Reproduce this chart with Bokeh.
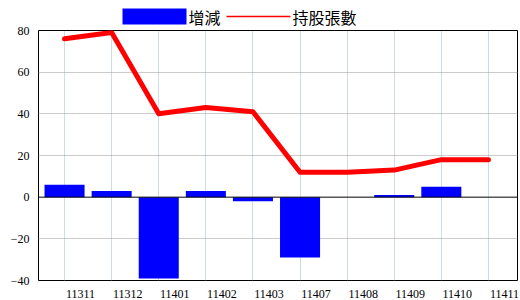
from bokeh.plotting import figure
from bokeh.layouts import column
from bokeh.models import Range1d, FixedTicker, Span, ColumnDataSource
from bokeh.core.properties import value
from bokeh.embed import file_html
from bokeh.resources import INLINE

months = ["11311", "11312", "11401", "11402", "11403", "11407", "11408", "11409", "11410", "11411"]
change = [6, 3, -39, 3, -2, -29, 0, 1, 5, 0]
holding = [76, 79, 40, 43, 41, 12, 12, 13, 18, 18]
y_ticks = [-40, -20, 0, 20, 40, 60, 80]
series_names = ["增減", "持股張數"]

BLUE = "#0000FF"
RED = "#FF0000"

# ---- legend strip (x in page pixels, y in strip pixels from its bottom) ----
leg = figure(width=520, height=30, x_range=Range1d(38, 517), y_range=Range1d(0, 30),
             output_backend="svg", toolbar_location=None,
             x_axis_location=None, y_axis_location=None,
             min_border_left=38, min_border_right=3, min_border_top=0, min_border_bottom=0)
leg.outline_line_color = None
leg.grid.visible = False
leg.background_fill_alpha = 0
leg.border_fill_alpha = 0
leg.quad(left=[122], right=[186], bottom=[6], top=[22], fill_color=BLUE, line_color=None)
leg.segment(x0=[226], x1=[290], y0=[14], y1=[14], line_color=RED, line_width=1.5)
leg.text(x=[188, 292], y=[14, 14], text=series_names, text_font=value("Noto Sans CJK TC"),
         text_font_size="16px", text_baseline="middle", text_align="left", text_color="black")

# ---- main chart ----
idx = list(range(len(months)))
src = ColumnDataSource(dict(x=idx, change=change, holding=holding))

p = figure(width=520, height=276, x_range=Range1d(-0.553, 9.617), y_range=Range1d(-40, 80),
           output_backend="svg", toolbar_location=None,
           min_border_left=38, min_border_right=3, min_border_top=6, min_border_bottom=20,
           margin=(-6, 0, 0, 0))
p.background_fill_color = "white"
p.border_fill_alpha = 0
p.outline_line_color = "black"
p.outline_line_width = 1
p.outline_line_alpha = 1

p.vbar(x="x", top="change", bottom=0, width=0.85, source=src,
       fill_color=BLUE, line_color=None)
p.line(x="x", y="holding", source=src, line_color=RED, line_width=5,
       line_join="round", line_cap="round")

p.add_layout(Span(location=0, dimension="width", line_color="black", line_width=1))

label_ticks = [i + 0.34 for i in idx]
p.xaxis.ticker = FixedTicker(ticks=label_ticks)
p.xaxis.major_label_overrides = {t: m for t, m in zip(label_ticks, months)}
p.yaxis.ticker = FixedTicker(ticks=y_ticks)
for ax in (p.xaxis, p.yaxis):
    ax.major_tick_line_color = None
    ax.minor_tick_line_color = None
    ax.axis_line_color = None
    ax.major_label_standoff = 3
    ax.major_label_text_font = "Liberation Sans Narrow"
    ax.major_label_text_font_size = "12px"
    ax.major_label_text_color = "black"

p.xgrid.ticker = FixedTicker(ticks=idx)
p.xgrid.grid_line_color = "#a0b8c8"
p.xgrid.grid_line_dash = "1 1"
p.ygrid.ticker = FixedTicker(ticks=[-20, 20, 40, 60])
p.ygrid.grid_line_color = "#999999"
p.ygrid.grid_line_dash = "1 1"

layout = column(leg, p, spacing=0)
open("out.html", "w").write(file_html(layout, INLINE))
